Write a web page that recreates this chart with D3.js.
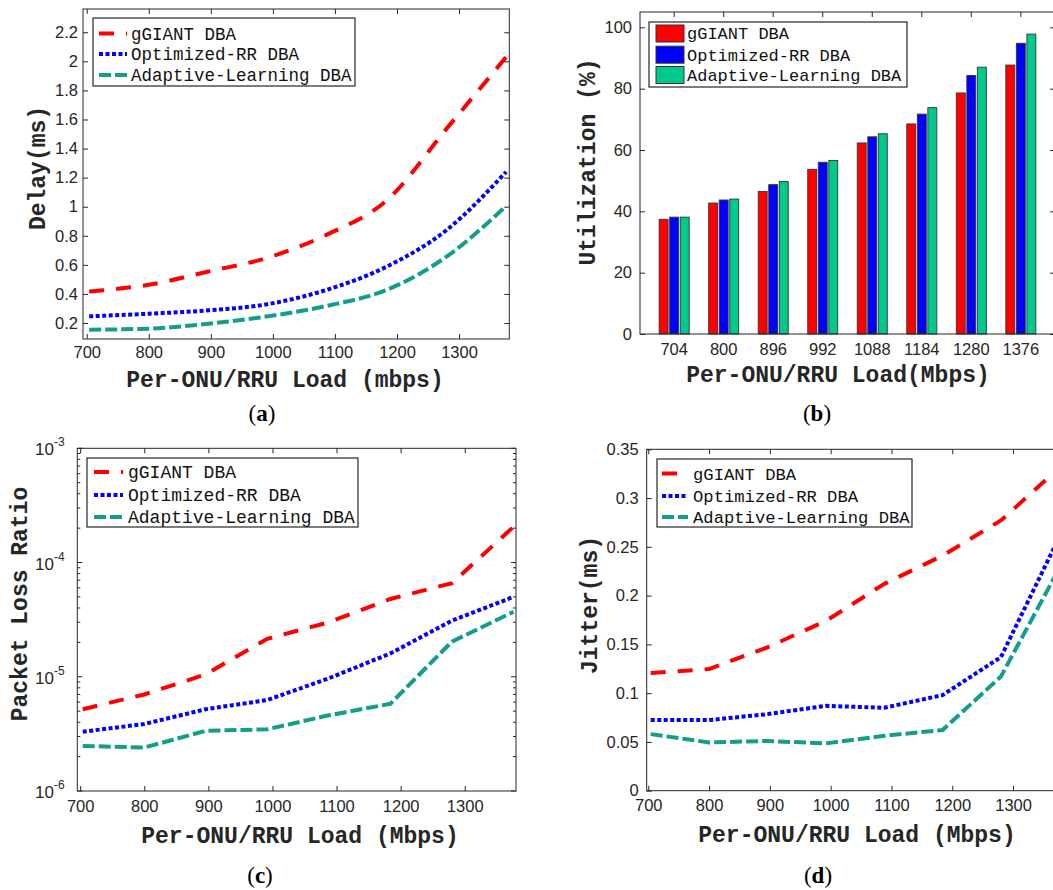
<!DOCTYPE html>
<head>
  <meta charset="utf-8">
  <script src="https://d3js.org/d3.v7.min.js"></script>
  <style>
    body { margin: 0; background: #fff; }
    .tick text { font-family: "Liberation Sans", Arial, sans-serif; fill: #262626; }
    .tick line { stroke: #262626; }
    .lbl { font-family: "Liberation Mono", "Courier New", monospace; font-weight: bold; fill: #262626; }
    .leg { font-family: "Liberation Mono", "Courier New", monospace; fill: #111; }
    .cap { font-family: "Liberation Serif", "Times New Roman", serif; fill: #000; }
  </style>
</head>
<body>
<div class="chart"></div>
<script>
// data
var loads = [704, 800, 896, 992, 1088, 1184, 1280, 1376];
var seriesNames = ["gGIANT DBA", "Optimized-RR DBA", "Adaptive-Learning DBA"];

var delayGiant = [0.417, 0.463, 0.554, 0.65, 0.81, 1.046, 1.537, 2.03];
var delayRR    = [0.246, 0.264, 0.287, 0.33, 0.43, 0.589, 0.84, 1.24];
var delayAL    = [0.154, 0.161, 0.195, 0.246, 0.319, 0.429, 0.657, 1.005];

var utilGiant = [37.4, 42.7, 46.5, 53.7, 62.3, 68.5, 78.6, 87.7];
var utilRR    = [38.1, 43.7, 48.7, 56.0, 64.3, 71.7, 84.3, 94.8];
var utilAL    = [38.1, 44.0, 49.7, 56.6, 65.3, 73.8, 87.0, 97.8];

var lossGiant = [5.2e-6, 7.0e-6, 1.05e-5, 2.15e-5, 3.0e-5, 4.8e-5, 6.6e-5, 2.05e-4];
var lossRR    = [3.3e-6, 3.86e-6, 5.2e-6, 6.26e-6, 9.7e-6, 1.6e-5, 3.1e-5, 5.0e-5];
var lossAL    = [2.48e-6, 2.4e-6, 3.37e-6, 3.47e-6, 4.6e-6, 5.8e-6, 2.03e-5, 3.7e-5];

var jitterGiant = [0.1206, 0.1247, 0.147, 0.174, 0.212, 0.241, 0.277, 0.331];
var jitterRR    = [0.0724, 0.0724, 0.0785, 0.087, 0.085, 0.098, 0.137, 0.26];
var jitterAL    = [0.058, 0.0495, 0.051, 0.0485, 0.0563, 0.0622, 0.117, 0.228];

var loadTicks = [700, 800, 900, 1000, 1100, 1200, 1300];
var delayTicks = [0.2, 0.4, 0.6, 0.8, 1, 1.2, 1.4, 1.6, 1.8, 2, 2.2];
var utilTicks = [0, 20, 40, 60, 80, 100];
var lossTicks = [1e-6, 1e-5, 1e-4, 1e-3];
var jitterTicks = [0, 0.05, 0.1, 0.15, 0.2, 0.25, 0.3, 0.35];

var lineColors = ["#ff0000", "#0000ff", "#139e8b"];
var barColors = ["#ff0000", "#0000ff", "#00c98c"];
var dashes = ["15 12", "4 2.5", "12 4"];

var svg = d3.select(".chart").append("svg")
  .attr("width", 1053).attr("height", 890);

function box(g, x, y) {
  g.append("rect")
    .attr("x", x.range()[0]).attr("y", y.range()[1])
    .attr("width", x.range()[1] - x.range()[0])
    .attr("height", y.range()[0] - y.range()[1])
    .attr("fill", "none").attr("stroke", "#262626").attr("stroke-width", 1);
}

function xAxes(g, x, y, ticks, fontSize, pad) {
  g.append("g").attr("transform", "translate(0," + y.range()[0] + ")")
    .call(d3.axisBottom(x).tickValues(ticks).tickSize(-5).tickPadding(pad).tickFormat(d3.format("d")))
    .call(function(a) { a.select(".domain").remove(); a.selectAll("text").style("font-size", fontSize + "px"); });
  g.append("g").attr("transform", "translate(0," + y.range()[1] + ")")
    .call(d3.axisTop(x).tickValues(ticks).tickSize(-5).tickFormat(""))
    .call(function(a) { a.select(".domain").remove(); });
}

function yAxes(g, x, y, ticks, fmt, fontSize, pad) {
  g.append("g").attr("transform", "translate(" + x.range()[0] + ",0)")
    .call(d3.axisLeft(y).tickValues(ticks).tickSize(-5).tickPadding(pad).tickFormat(fmt))
    .call(function(a) { a.select(".domain").remove(); a.selectAll("text").style("font-size", fontSize + "px"); });
  g.append("g").attr("transform", "translate(" + x.range()[1] + ",0)")
    .call(d3.axisRight(y).tickValues(ticks).tickSize(-5).tickFormat(""))
    .call(function(a) { a.select(".domain").remove(); });
}

function labels(g, xl, yl, cap) {
  g.append("text").attr("class", "lbl").attr("x", xl[0]).attr("y", xl[1])
    .attr("text-anchor", "middle").style("font-size", "23px").text(xl[2]);
  g.append("text").attr("class", "lbl")
    .attr("transform", "translate(" + yl[0] + "," + yl[1] + ") rotate(-90)")
    .attr("text-anchor", "middle").style("font-size", "23px").text(yl[2]);
  var c = g.append("text").attr("class", "cap").attr("x", cap[0]).attr("y", cap[1])
    .attr("text-anchor", "middle").style("font-size", "23px");
  c.append("tspan").text("(");
  c.append("tspan").attr("font-weight", "bold").text(cap[2]);
  c.append("tspan").text(")");
}

function lineLegend(g, lg) {
  g.append("rect").attr("x", lg.x0).attr("y", lg.y0)
    .attr("width", lg.x1 - lg.x0).attr("height", lg.y1 - lg.y0)
    .attr("fill", "#fff").attr("stroke", "#262626").attr("stroke-width", 1.2);
  seriesNames.forEach(function(name, i) {
    var yy = lg.rows[i];
    g.append("line").attr("x1", lg.sx0).attr("x2", lg.sx1).attr("y1", yy).attr("y2", yy)
      .attr("stroke", lineColors[i]).attr("stroke-width", 4).attr("stroke-dasharray", dashes[i]);
    g.append("text").attr("class", "leg").attr("x", lg.tx).attr("y", yy)
      .attr("dy", "0.35em").style("font-size", lg.fs + "px").text(name);
  });
}

function linePanel(opt) {
  var g = svg.append("g");
  var x = opt.x, y = opt.y;
  var clipId = "clip" + opt.id;
  g.append("clipPath").attr("id", clipId).append("rect")
    .attr("x", x.range()[0]).attr("y", y.range()[1])
    .attr("width", x.range()[1] - x.range()[0]).attr("height", y.range()[0] - y.range()[1]);

  var line = d3.line().x(function(d, i) { return x(loads[i]); }).y(function(d) { return y(d); })
    .curve(opt.curve);
  opt.series.forEach(function(s, i) {
    g.append("path").datum(s).attr("d", line).attr("clip-path", "url(#" + clipId + ")")
      .attr("fill", "none").attr("stroke", lineColors[i]).attr("stroke-width", 4)
      .attr("stroke-dasharray", dashes[i]);
  });
  xAxes(g, x, y, loadTicks, 16.5, opt.xpad);
  if (opt.log) {
    // minor ticks on the log axis
    var minor = [];
    for (var e = -6; e < -3; e++) for (var m = 2; m < 10; m++) minor.push(m * Math.pow(10, e));
    [x.range()[0], x.range()[1]].forEach(function(px, k) {
      var dir = k === 0 ? 1 : -1;
      g.selectAll(null).data(minor).enter().append("line")
        .attr("x1", px).attr("x2", px + dir * 3)
        .attr("y1", function(d) { return y(d); }).attr("y2", function(d) { return y(d); })
        .attr("stroke", "#262626");
      g.selectAll(null).data(opt.yticks).enter().append("line")
        .attr("x1", px).attr("x2", px + dir * 5)
        .attr("y1", function(d) { return y(d); }).attr("y2", function(d) { return y(d); })
        .attr("stroke", "#262626");
    });
    var t = g.selectAll(null).data(opt.yticks).enter().append("text")
      .attr("class", "tick").attr("x", 35).attr("y", function(d) { return y(d) + 7; })
      .style("font-family", "Liberation Sans, Arial, sans-serif").style("font-size", "17px").attr("fill", "#262626");
    t.append("tspan").text("10");
    t.append("tspan").attr("dy", -9).style("font-size", "12px")
      .text(function(d) { return "-" + Math.round(-Math.log10(d)); });
  } else {
    yAxes(g, x, y, opt.yticks, opt.yfmt, 16.5, opt.ypad);
  }
  box(g, x, y);
  lineLegend(g, opt.legend);
  labels(g, opt.xl, opt.yl, opt.cap);
}

// (a) delay
linePanel({
  id: "a",
  x: d3.scaleLinear().domain([694, 1381]).range([83, 509.3]),
  y: d3.scaleLinear().domain([0.09, 2.36]).range([339, 9]),
  series: [delayGiant, delayRR, delayAL],
  curve: d3.curveMonotoneX,
  yticks: delayTicks, yfmt: d3.format(""), xpad: 7, ypad: 5,
  legend: { x0: 93, y0: 18, x1: 355, y1: 86, rows: [33.5, 54, 75], sx0: 99, sx1: 127, tx: 131, fs: 17.5 },
  xl: [285, 387, "Per-ONU/RRU Load (mbps)"],
  yl: [45, 168, "Delay(ms)"],
  cap: [262, 421, "a"]
});

// (c) packet loss
linePanel({
  id: "c", log: true,
  x: d3.scaleLinear().domain([695.5, 1380]).range([77.3, 516]),
  y: d3.scaleLog().domain([1e-6, 1e-3]).range([791, 448.3]),
  series: [lossGiant, lossRR, lossAL],
  curve: d3.curveLinear,
  yticks: lossTicks, xpad: 9,
  legend: { x0: 87, y0: 458, x1: 358, y1: 527, rows: [472, 495, 517], sx0: 94, sx1: 123, tx: 128, fs: 18 },
  xl: [300, 843, "Per-ONU/RRU Load (Mbps)"],
  yl: [27, 604, "Packet Loss Ratio"],
  cap: [260, 883, "c"]
});

// (d) jitter
linePanel({
  id: "d",
  x: d3.scaleLinear().domain([697.4, 1380]).range([646.7, 1061.7]),
  y: d3.scaleLinear().domain([0, 0.35]).range([790.7, 449.3]),
  series: [jitterGiant, jitterRR, jitterAL],
  curve: d3.curveLinear,
  yticks: jitterTicks, yfmt: d3.format(""), xpad: 9, ypad: 8,
  legend: { x0: 657, y0: 459, x1: 912, y1: 527, rows: [473.5, 496, 517], sx0: 662, sx1: 688, tx: 693, fs: 17.2 },
  xl: [857, 842, "Per-ONU/RRU Load (Mbps)"],
  yl: [597, 605, "Jitter(ms)"],
  cap: [818, 883, "d"]
});

// (b) utilization bars
(function() {
  var g = svg.append("g");
  var utils = [utilGiant, utilRR, utilAL];
  var x = d3.scaleBand().domain(loads).range([640, 1055]).paddingInner(0).paddingOuter(0.19);
  var y = d3.scaleLinear().domain([0, 105]).range([334, 12]);
  var sub = d3.scaleBand().domain([0, 1, 2]).range([-15, 15]).paddingInner(0.15);

  loads.forEach(function(l, j) {
    var cx = x(l) + x.bandwidth() / 2;
    g.selectAll(null).data(utils.map(function(s) { return s[j]; })).enter().append("rect")
      .attr("x", function(d, i) { return cx + sub(i); })
      .attr("width", sub.bandwidth())
      .attr("y", function(d) { return y(d); })
      .attr("height", function(d) { return y(0) - y(d); })
      .attr("fill", function(d, i) { return barColors[i]; })
      .attr("stroke", "#333").attr("stroke-width", 0.9);
  });

  var xr = d3.scaleLinear().range([640, 1055]);
  g.append("g").attr("transform", "translate(0,334)")
    .call(d3.axisBottom(x).tickSize(-5).tickPadding(9))
    .call(function(a) { a.select(".domain").remove(); a.selectAll("text").style("font-size", "16.5px"); });
  g.append("g").attr("transform", "translate(0,12)")
    .call(d3.axisTop(x).tickSize(-5).tickFormat(""))
    .call(function(a) { a.select(".domain").remove(); });
  yAxes(g, xr, y, utilTicks, d3.format("d"), 16.5, 8);
  box(g, xr, y);

  g.append("rect").attr("x", 649).attr("y", 22).attr("width", 258).attr("height", 65)
    .attr("fill", "#fff").attr("stroke", "#262626").attr("stroke-width", 1.2);
  var rows = [33.5, 54.7, 75];
  seriesNames.forEach(function(name, i) {
    g.append("rect").attr("x", 656).attr("y", rows[i] - 8.5).attr("width", 28).attr("height", 17)
      .attr("fill", barColors[i]).attr("stroke", "#333");
    g.append("text").attr("class", "leg").attr("x", 687).attr("y", rows[i]).attr("dy", "0.35em")
      .style("font-size", "17px").text(name);
  });
  labels(g, [838, 382, "Per-ONU/RRU Load(Mbps)"], [595, 162, "Utilization (%)"], [817, 421, "b"]);
})();
</script>
</body>
